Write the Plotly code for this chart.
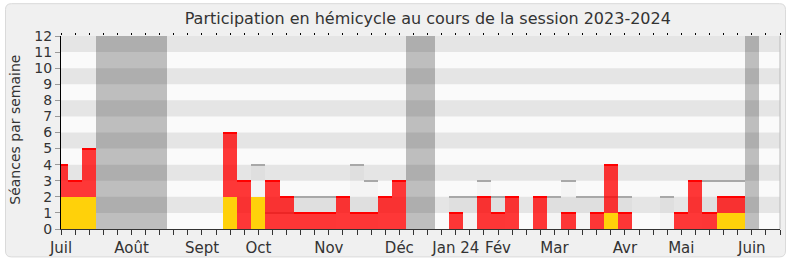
import plotly.graph_objects as go

# ---- data (one value per week, week 0 = first week of July 2023) ----
weeks = list(range(52))
presences = [4, 3, 5, 0, 0, 0, 0, 0, 0, 0, 0, 0,
             6, 3, 0, 3, 2, 1, 1, 1, 2, 1, 1, 2, 3,
             0, 0, 0, 1, 0, 2, 1, 2, 0, 2, 0, 1, 0, 1,
             4, 1, 0, 0, 0, 1, 3, 1, 2, 2, 0, 0, 0]
interventions = [2, 2, 2, 0, 0, 0, 0, 0, 0, 0, 0, 0,
                 2, 0, 2, 0, 0, 0, 0, 0, 0, 0, 0, 0, 0,
                 0, 0, 0, 0, 0, 0, 0, 0, 0, 0, 0, 0, 0, 0,
                 1, 0, 0, 0, 0, 0, 0, 0, 1, 1, 0, 0, 0]
mediane = [0, 0, 0, 0, 0, 0, 0, 0, 0, 0, 0, 0,
           0, 0, 4, 1, 1, 2, 2, 2, 0, 4, 3, 0, 0,
           0, 0, 0, 2, 2, 3, 2, 0, 0, 0, 2, 3, 2, 2,
           2, 2, 0, 0, 2, 0, 0, 3, 3, 3, 0, 0, 0]
vacances = [3, 4, 5, 6, 7, 25, 26, 49]
month_labels = ["Juil", "Août", "Sept", "Oct", "Nov", "Déc", "Jan 24",
                "Fév", "Mar", "Avr", "Mai", "Juin"]
month_weeks = [0, 5, 10, 14, 19, 24, 28, 31, 35, 40, 44, 49]
y_ticks = list(range(13))

FONT = "DejaVu Sans"
TXT = "#333333"
ymax = 12

ticktext = [""] * len(weeks)
for lab, w in zip(month_labels, month_weeks):
    ticktext[w] = lab

def nz(xs, ys):
    pts = [(x, y) for x, y in zip(xs, ys) if y > 0]
    return [p[0] for p in pts], [p[1] for p in pts]

fig = go.Figure()

# vacation periods
fig.add_trace(go.Bar(x=vacances, y=[ymax] * len(vacances), width=1,
                     marker=dict(color="rgba(0,0,0,0.24)", line=dict(width=0)),
                     hoverinfo="skip", showlegend=False))

# median bars (light) + top edge
mx, my = nz(weeks, mediane)
fig.add_trace(go.Bar(x=mx, y=my, width=1,
                     marker=dict(color="rgba(0,0,0,0.025)", line=dict(width=0)),
                     hoverinfo="skip", showlegend=False))
lw = 0.09
fig.add_trace(go.Bar(x=mx, y=[lw] * len(mx), base=[v - lw / 2 for v in my], width=1,
                     marker=dict(color="#A8A8A8", line=dict(width=0)),
                     hoverinfo="skip", showlegend=False))

# presences (red) + top edge
rx, ry = nz(weeks, presences)
fig.add_trace(go.Bar(x=rx, y=ry, width=1,
                     marker=dict(color="rgba(255,0,0,0.78)", line=dict(width=0)),
                     hoverinfo="skip", showlegend=False))
rw = 0.065
fig.add_trace(go.Bar(x=rx, y=[rw] * len(rx), base=[v - rw for v in ry], width=1,
                     marker=dict(color="#FF0000", line=dict(width=0)),
                     hoverinfo="skip", showlegend=False))

# interventions (yellow)
ix, iy = nz(weeks, interventions)
fig.add_trace(go.Bar(x=ix, y=iy, width=1,
                     marker=dict(color="#FFD10A", line=dict(width=0)),
                     hoverinfo="skip", showlegend=False))

# dummy trace for the top axis
fig.add_trace(go.Scatter(x=[None], y=[None], xaxis="x2", showlegend=False,
                         hoverinfo="skip"))

# ---- frame / background shapes ----
W, H = 790, 267
L, R, T, B = 61, 10, 36, 34
pw, ph = W - L - R, H - T - B

def px(x):
    return (x - L) / pw

def py(y):
    return (H - B - y) / ph

x0, x1, y0, y1, r = 5.5, 785.5, 3.0, 261.5, 6
path = (f"M {px(x0 + r)},{py(y0)} L {px(x1 - r)},{py(y0)} "
        f"Q {px(x1)},{py(y0)} {px(x1)},{py(y0 + r)} "
        f"L {px(x1)},{py(y1 - r)} Q {px(x1)},{py(y1)} {px(x1 - r)},{py(y1)} "
        f"L {px(x0 + r)},{py(y1)} Q {px(x0)},{py(y1)} {px(x0)},{py(y1 - r)} "
        f"L {px(x0)},{py(y0 + r)} Q {px(x0)},{py(y0)} {px(x0 + r)},{py(y0)} Z")
shapes = [
    dict(type="path", path=path, xref="paper", yref="paper", layer="below",
         fillcolor="#F0F0F0", line=dict(color="#DADADA", width=1)),
    dict(type="rect", xref="paper", yref="paper", x0=0, x1=1, y0=0, y1=1,
         layer="below", fillcolor="#FAFAFA", line=dict(width=0)),
]
for k in range(1, ymax, 2):
    shapes.append(dict(type="rect", xref="paper", yref="y", x0=0, x1=1,
                       y0=k, y1=k + 1, layer="below",
                       fillcolor="#E5E5E5", line=dict(width=0)))
shapes.append(dict(type="line", xref="paper", yref="paper", x0=1, x1=1, y0=0, y1=1,
                   layer="above", line=dict(color="#BBBBBB", width=1)))

fig.update_layout(
    width=W, height=H,
    margin=dict(l=L, r=R, t=T, b=B),
    paper_bgcolor="#FFFFFF",
    plot_bgcolor="rgba(0,0,0,0)",
    barmode="overlay", bargap=0,
    font=dict(family=FONT, size=15, color=TXT),
    title=dict(text="Participation en hémicycle au cours de la session 2023-2024",
               x=px(427.8), xref="paper", xanchor="center",
               y=1 - 18 / H, yref="container", yanchor="middle",
               font=dict(family=FONT, size=16, color=TXT)),
    xaxis=dict(range=[0, 51], tickmode="array", tickvals=weeks, ticktext=ticktext,
               ticks="outside", ticklen=5, tickwidth=1, tickcolor="#333333",
               showline=True, linecolor="#333333", linewidth=1,
               showgrid=False, zeroline=False,
               tickfont=dict(family=FONT, size=15, color=TXT), tickangle=0),
    xaxis2=dict(range=[0, 51], overlaying="x", side="top", anchor="y",
                tickmode="array", tickvals=weeks, showticklabels=False,
                ticks="outside", ticklen=2, tickwidth=1, tickcolor="#000000",
                showline=False, showgrid=False, zeroline=False),
    yaxis=dict(range=[0, ymax], tickmode="array", tickvals=y_ticks,
               ticks="outside", ticklen=5, tickwidth=1, tickcolor="#999999",
               showline=True, linecolor="#000000", linewidth=1,
               showgrid=False, zeroline=False,
               tickfont=dict(family=FONT, size=14, color=TXT)),
    shapes=shapes,
    annotations=[dict(text="Séances par semaine", textangle=-90,
                      xref="paper", yref="paper", x=px(15), y=py(131.7),
                      xanchor="center", yanchor="middle", showarrow=False,
                      font=dict(family=FONT, size=14, color=TXT))],
)

fig.write_html("out.html")
